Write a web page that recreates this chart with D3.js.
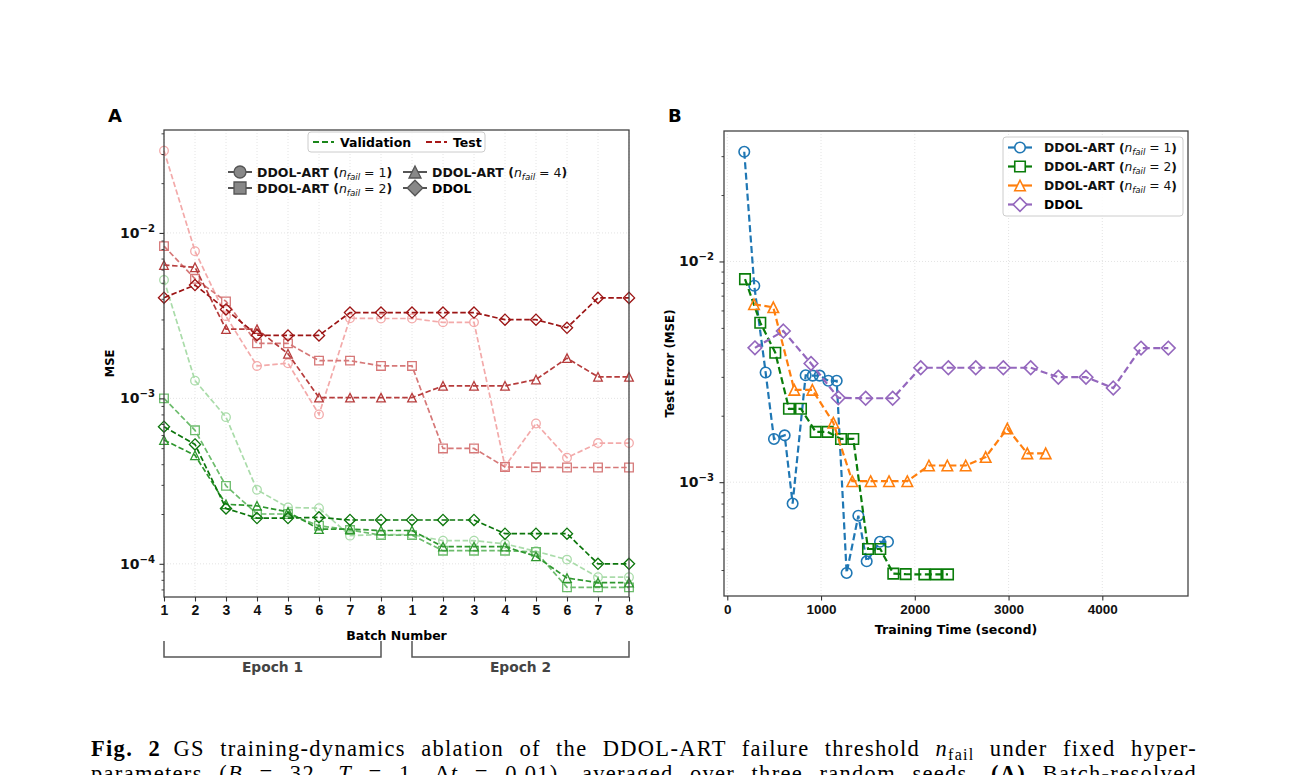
<!DOCTYPE html>
<html>
<head>
<meta charset="utf-8">
<script src="https://cdn.jsdelivr.net/npm/d3@7"></script>
<style>
  body { margin: 0; background: #fff; }
  svg { font-family: "DejaVu Sans", sans-serif; }
</style>
</head>
<body>
<svg id="fig"></svg>
<script>
// tick labels of panel A (two epochs of 8 batches)
var batchLabels = ["1", "2", "3", "4", "5", "6", "7", "8", "1", "2", "3", "4", "5", "6", "7", "8"];
var epochNames = ["Epoch 1", "Epoch 2"];

// validation MSE per batch (panel A, green)
var valN1 = [0.0052, 0.00128, 0.00077, 0.00028, 0.000219, 0.000217, 0.000148, 0.00015, 0.00015, 0.000138, 0.000138, 0.000132, 0.000119, 0.000106, 0.000083, 0.000083];
var valN2 = [0.00100, 0.000641, 0.000296, 0.000200, 0.000200, 0.000170, 0.000160, 0.000149, 0.000149, 0.000120, 0.000120, 0.000120, 0.000118, 0.000072, 0.000072, 0.000072];
var valN4 = [0.00056, 0.000453, 0.000229, 0.000224, 0.000206, 0.000162, 0.000162, 0.000159, 0.000159, 0.000127, 0.000127, 0.000127, 0.000111, 0.000082, 0.000077, 0.000077];
var valDDOL = [0.000674, 0.000527, 0.000216, 0.000189, 0.000189, 0.000191, 0.000184, 0.000184, 0.000184, 0.000184, 0.000184, 0.000152, 0.000152, 0.000152, 0.000100, 0.000100];

// test MSE per batch (panel A red, and panel B)
var testN1 = [0.0314, 0.00776, 0.00314, 0.00157, 0.00163, 0.00080, 0.00305, 0.00304, 0.00304, 0.00288, 0.00288, 0.000388, 0.000705, 0.000438, 0.000537, 0.000537];
var testN2 = [0.00832, 0.00528, 0.00386, 0.00215, 0.00215, 0.00169, 0.00169, 0.00157, 0.00157, 0.000498, 0.000498, 0.000385, 0.000383, 0.000382, 0.000382, 0.000382];
var testN4 = [0.0064, 0.0062, 0.00262, 0.00262, 0.00186, 0.00101, 0.00101, 0.00101, 0.00101, 0.00119, 0.00119, 0.00119, 0.00130, 0.00175, 0.00135, 0.00135];
var testDDOL = [0.00406, 0.00484, 0.00345, 0.00241, 0.00240, 0.00240, 0.00330, 0.00330, 0.00330, 0.00330, 0.00330, 0.00299, 0.00299, 0.00267, 0.00405, 0.00405];

// cumulative training time in seconds (panel B)
var timeN1 = [181, 288, 409, 498, 612, 697, 836, 911, 985, 1078, 1167, 1273, 1398, 1487, 1629, 1714];
var timeN2 = [189, 352, 512, 658, 786, 943, 1071, 1213, 1344, 1501, 1632, 1771, 1903, 2102, 2226, 2354];
var timeN4 = [285, 491, 715, 907, 1131, 1333, 1529, 1725, 1920, 2151, 2347, 2543, 2756, 2987, 3200, 3396];
var timeDDOL = [295, 598, 893, 1184, 1476, 1764, 2063, 2358, 2650, 2944, 3236, 3531, 3826, 4117, 4413, 4704];
var timeTicks = [0, 1000, 2000, 3000, 4000];

var svg = d3.select("#fig").attr("width", 1293).attr("height", 775);

// marker shapes in the matplotlib way (o, s, ^, D), ms = marker size in px
function markerPath(shape, ms) {
    var h = ms / 2;
    if (shape == "circle") return d3.symbol(d3.symbolCircle, Math.PI * h * h)();
    if (shape == "square") return "M" + -h + "," + -h + "H" + h + "V" + h + "H" + -h + "Z";
    if (shape == "triangle") return "M0," + -h + "L" + h + "," + h + "L" + -h + "," + h + "Z";
    var d = h * 1.3;
    return "M0," + -d + "L" + d + ",0L0," + d + "L" + -d + ",0Z";
}

function logMinors(lo, hi) {
    var out = [];
    for (var e = -6; e < 0; e++) {
        for (var m = 2; m <= 9; m++) {
            var v = m * Math.pow(10, e);
            if (v >= lo && v <= hi) out.push(v);
        }
    }
    return out;
}

// "10^-k" labels with a real superscript
function powLabel(g, x, y, exp, size) {
    var t = g.append("text").attr("x", x).attr("y", y).attr("text-anchor", "end")
        .attr("font-size", size).attr("font-weight", "bold").attr("fill", "#111");
    t.append("tspan").text("10");
    t.append("tspan").attr("dy", -size * 0.45).attr("font-size", size * 0.72).text("\u2212" + exp);
}

// "DDOL-ART (n_fail = k)" legend label
function nfailLabel(g, x, y, num, size) {
    var t = g.append("text").attr("x", x).attr("y", y).attr("font-size", size).attr("fill", "#111");
    t.append("tspan").attr("font-weight", "bold").text("DDOL-ART (");
    t.append("tspan").attr("font-style", "italic").text("n");
    t.append("tspan").attr("font-style", "italic").attr("font-size", size * 0.7).attr("dy", size * 0.25).text("fail");
    t.append("tspan").attr("dy", -size * 0.25).text(" = " + num);
    t.append("tspan").attr("font-weight", "bold").text(")");
}

function styleAxis(g, size) {
    g.select(".domain").remove();
    g.selectAll(".tick line").attr("stroke", "#333").attr("stroke-width", 1.1);
    g.selectAll(".tick text").attr("font-family", null).attr("font-weight", "bold")
        .attr("font-size", size).attr("fill", "#111");
}

/* ---------------- Panel A ---------------- */
function drawPanelA() {
    var left = 164, right = 629, top = 130, bottom = 597;
    var x = d3.scaleLinear().domain([0, 15]).range([left, right]);
    var y = d3.scaleLog().domain([6.3e-5, 0.0419]).range([bottom, top]);
    var g = svg.append("g");

    // grid
    g.selectAll(".gx").data(d3.range(16)).enter().append("line")
        .attr("x1", function(d) { return x(d); }).attr("x2", function(d) { return x(d); })
        .attr("y1", top).attr("y2", bottom)
        .attr("stroke", "#ddd").attr("stroke-width", 0.8).attr("stroke-dasharray", "1,2");
    g.selectAll(".gy").data([1e-4, 1e-3, 1e-2]).enter().append("line")
        .attr("x1", left).attr("x2", right)
        .attr("y1", function(d) { return y(d); }).attr("y2", function(d) { return y(d); })
        .attr("stroke", "#ddd").attr("stroke-width", 0.8).attr("stroke-dasharray", "1,2");

    var series = [
        { vals: valN1, shape: "circle", color: "#aadcaa" },
        { vals: testN1, shape: "circle", color: "#f3aaaa" },
        { vals: valN2, shape: "square", color: "#6cbc6c" },
        { vals: testN2, shape: "square", color: "#d67878" },
        { vals: valN4, shape: "triangle", color: "#2f972f" },
        { vals: testN4, shape: "triangle", color: "#b63c3c" },
        { vals: valDDOL, shape: "diamond", color: "#0c760c" },
        { vals: testDDOL, shape: "diamond", color: "#9c1414" }
    ];

    var line = d3.line()
        .x(function(d, i) { return x(i); })
        .y(function(d) { return y(d); });

    series.forEach(function(s) {
        g.append("path").datum(s.vals)
            .attr("fill", "none").attr("stroke", s.color).attr("stroke-width", 1.7)
            .attr("stroke-dasharray", "5.5,2.6").attr("d", line);
        g.selectAll(null).data(s.vals).enter().append("path")
            .attr("transform", function(d, i) { return "translate(" + x(i) + "," + y(d) + ")"; })
            .attr("d", markerPath(s.shape, 8.6))
            .attr("fill", "none").attr("stroke", s.color).attr("stroke-width", 1.3);
    });

    // frame
    g.append("rect").attr("x", left).attr("y", top).attr("width", right - left).attr("height", bottom - top)
        .attr("fill", "none").attr("stroke", "#444").attr("stroke-width", 1.3);

    // axes
    var ax = g.append("g").attr("transform", "translate(0," + bottom + ")")
        .call(d3.axisBottom(x).tickValues(d3.range(16))
            .tickFormat(function(i) { return batchLabels[i]; }).tickSize(4.5).tickPadding(4));
    styleAxis(ax, 14);

    var ay = g.append("g").attr("transform", "translate(" + left + ",0)")
        .call(d3.axisLeft(y).tickValues([1e-4, 1e-3, 1e-2]).tickFormat("").tickSize(4.5));
    styleAxis(ay, 14);
    var ayMinor = g.append("g").attr("transform", "translate(" + left + ",0)")
        .call(d3.axisLeft(y).tickValues(logMinors(6.3e-5, 0.0419)).tickFormat("").tickSize(2.5));
    styleAxis(ayMinor, 14);
    ayMinor.selectAll(".tick line").attr("stroke-width", 0.9);
    [2, 3, 4].forEach(function(k) { powLabel(g, 155, y(Math.pow(10, -k)) + 5, k, 14); });

    g.append("text").attr("transform", "translate(114," + (top + bottom) / 2 + ") rotate(-90)")
        .attr("text-anchor", "middle").attr("font-size", 11.5).attr("font-weight", "bold").text("MSE");
    g.append("text").attr("x", (left + right) / 2).attr("y", 640).attr("text-anchor", "middle")
        .attr("font-size", 12.5).attr("font-weight", "bold").text("Batch Number");

    // epoch brackets
    [[0, 7], [8, 15]].forEach(function(r, k) {
        var x0 = x(r[0]), x1 = x(r[1]);
        g.append("path").attr("d", "M" + x0 + ",641V657H" + x1 + "V641")
            .attr("fill", "none").attr("stroke", "#555").attr("stroke-width", 1.5);
        g.append("text").attr("x", (x0 + x1) / 2).attr("y", 672).attr("text-anchor", "middle")
            .attr("font-size", 13.8).attr("font-weight", "bold").attr("fill", "#444").text(epochNames[k]);
    });

    g.append("text").attr("x", 108).attr("y", 122).attr("font-size", 18).attr("font-weight", "bold").text("A");

    // legend: split types
    g.append("rect").attr("x", 308).attr("y", 132).attr("width", 177).attr("height", 20).attr("rx", 3)
        .attr("fill", "#fff").attr("fill-opacity", 0.85).attr("stroke", "#ccc");
    [{ lbl: "Validation", c: "#1a861a", x: 313 }, { lbl: "Test", c: "#a81818", x: 426 }].forEach(function(e) {
        g.append("line").attr("x1", e.x).attr("x2", e.x + 21).attr("y1", 142).attr("y2", 142)
            .attr("stroke", e.c).attr("stroke-width", 2.2).attr("stroke-dasharray", "6,3");
        g.append("text").attr("x", e.x + 27).attr("y", 146.5).attr("font-size", 12.5)
            .attr("font-weight", "bold").text(e.lbl);
    });

    // legend: method markers
    var marks = [
        { shape: "circle", x: 228, y: 172, n: "1" },
        { shape: "square", x: 228, y: 188, n: "2" },
        { shape: "triangle", x: 403, y: 172, n: "4" },
        { shape: "diamond", x: 403, y: 188, n: null }
    ];
    marks.forEach(function(m) {
        g.append("line").attr("x1", m.x).attr("x2", m.x + 24).attr("y1", m.y).attr("y2", m.y)
            .attr("stroke", "#555").attr("stroke-width", 2);
        g.append("path").attr("transform", "translate(" + (m.x + 12) + "," + m.y + ")")
            .attr("d", markerPath(m.shape, 12)).attr("fill", "#888").attr("stroke", "#555").attr("stroke-width", 1.3);
        if (m.n) nfailLabel(g, m.x + 29, m.y + 4.5, m.n, 12.5);
        else g.append("text").attr("x", m.x + 29).attr("y", m.y + 4.5).attr("font-size", 12.5)
            .attr("font-weight", "bold").text("DDOL");
    });
}

/* ---------------- Panel B ---------------- */
function drawPanelB() {
    var left = 724, right = 1188, top = 131, bottom = 596;
    var x = d3.scaleLinear().domain([-35, 4914]).range([left, right]);
    var y = d3.scaleLog().domain([3.05e-4, 0.039]).range([bottom, top]);
    var g = svg.append("g");

    g.selectAll(".gx").data(timeTicks).enter().append("line")
        .attr("x1", function(d) { return x(d); }).attr("x2", function(d) { return x(d); })
        .attr("y1", top).attr("y2", bottom)
        .attr("stroke", "#ddd").attr("stroke-width", 0.8).attr("stroke-dasharray", "1,2");
    g.selectAll(".gy").data([1e-3, 1e-2]).enter().append("line")
        .attr("x1", left).attr("x2", right)
        .attr("y1", function(d) { return y(d); }).attr("y2", function(d) { return y(d); })
        .attr("stroke", "#ddd").attr("stroke-width", 0.8).attr("stroke-dasharray", "1,2");

    var series = [
        { t: timeN1, v: testN1, shape: "circle", color: "#1f77b4", n: "1" },
        { t: timeN2, v: testN2, shape: "square", color: "#0a7d0a", n: "2" },
        { t: timeN4, v: testN4, shape: "triangle", color: "#ff7f0e", n: "4" },
        { t: timeDDOL, v: testDDOL, shape: "diamond", color: "#9467bd", n: null }
    ];

    var line = d3.line()
        .x(function(d) { return x(d[0]); })
        .y(function(d) { return y(d[1]); });

    series.forEach(function(s) {
        var pts = s.t.map(function(t, i) { return [t, s.v[i]]; });
        g.append("path").datum(pts)
            .attr("fill", "none").attr("stroke", s.color).attr("stroke-width", 2.2)
            .attr("stroke-dasharray", "7,3.5").attr("d", line);
        g.selectAll(null).data(pts).enter().append("path")
            .attr("transform", function(d) { return "translate(" + x(d[0]) + "," + y(d[1]) + ")"; })
            .attr("d", markerPath(s.shape, 10.5))
            .attr("fill", "none").attr("stroke", s.color).attr("stroke-width", 1.6);
    });

    g.append("rect").attr("x", left).attr("y", top).attr("width", right - left).attr("height", bottom - top)
        .attr("fill", "none").attr("stroke", "#444").attr("stroke-width", 1.3);

    var ax = g.append("g").attr("transform", "translate(0," + bottom + ")")
        .call(d3.axisBottom(x).tickValues(timeTicks).tickFormat(d3.format("d")).tickSize(4.5).tickPadding(4));
    styleAxis(ax, 13.5);

    var ay = g.append("g").attr("transform", "translate(" + left + ",0)")
        .call(d3.axisLeft(y).tickValues([1e-3, 1e-2]).tickFormat("").tickSize(4.5));
    styleAxis(ay, 13.5);
    var ayMinor = g.append("g").attr("transform", "translate(" + left + ",0)")
        .call(d3.axisLeft(y).tickValues(logMinors(3.05e-4, 0.039)).tickFormat("").tickSize(2.5));
    styleAxis(ayMinor, 13.5);
    ayMinor.selectAll(".tick line").attr("stroke-width", 0.9);
    [2, 3].forEach(function(k) { powLabel(g, 714, y(Math.pow(10, -k)) + 5, k, 14); });

    g.append("text").attr("transform", "translate(674," + (top + bottom) / 2 + ") rotate(-90)")
        .attr("text-anchor", "middle").attr("font-size", 11.8).attr("font-weight", "bold").text("Test Error (MSE)");
    g.append("text").attr("x", (left + right) / 2).attr("y", 634).attr("text-anchor", "middle")
        .attr("font-size", 12.6).attr("font-weight", "bold").text("Training Time (second)");

    g.append("text").attr("x", 668).attr("y", 122).attr("font-size", 18).attr("font-weight", "bold").text("B");

    // legend
    g.append("rect").attr("x", 1003).attr("y", 137).attr("width", 180).attr("height", 79).attr("rx", 3)
        .attr("fill", "#fff").attr("fill-opacity", 0.85).attr("stroke", "#ccc");
    series.forEach(function(s, k) {
        var ly = 147.5 + k * 19;
        g.append("line").attr("x1", 1008).attr("x2", 1032).attr("y1", ly).attr("y2", ly)
            .attr("stroke", s.color).attr("stroke-width", 2.2);
        g.append("path").attr("transform", "translate(1020," + ly + ")")
            .attr("d", markerPath(s.shape, 10.5)).attr("fill", "#fff").attr("stroke", s.color).attr("stroke-width", 1.6);
        if (s.n) nfailLabel(g, 1044, ly + 4.5, s.n, 12.3);
        else g.append("text").attr("x", 1044).attr("y", ly + 4.5).attr("font-size", 12.3)
            .attr("font-weight", "bold").text("DDOL");
    });
}

/* ---------------- caption (second line is cut by the page edge, as in the source) ---------------- */
// justify a caption line: a little letter spacing, the rest goes into the word gaps
function justify(t, width) {
    var len = t.node().getComputedTextLength();
    var txt = t.text();
    var gaps = txt.split(" ").length - 1;
    if (len >= width) return;
    var ls = Math.min(0.55 * (width - len) / txt.length, 1.3);
    t.attr("letter-spacing", ls);
    len = t.node().getComputedTextLength();
    if (gaps > 0 && len < width) t.attr("word-spacing", (width - len) / gaps);
}

function drawCaption() {
    var serif = "'Liberation Serif', 'DejaVu Serif', serif";
    var t1 = svg.append("text").attr("x", 91).attr("y", 756).attr("font-size", 22.5)
        .style("font-family", serif);
    t1.append("tspan").attr("font-weight", "bold").text("Fig. 2");
    t1.append("tspan").text("\u2002GS training-dynamics ablation of the DDOL-ART failure threshold ");
    t1.append("tspan").attr("font-style", "italic").text("n");
    t1.append("tspan").attr("font-size", 16).attr("dy", 4).text("fail");
    t1.append("tspan").attr("dy", -4).text(" under fixed hyper-");
    justify(t1, 1106);

    var t2 = svg.append("text").attr("x", 91).attr("y", 781).attr("font-size", 22.5)
        .style("font-family", serif);
    t2.append("tspan").text("parameters (");
    t2.append("tspan").attr("font-style", "italic").text("B");
    t2.append("tspan").text(" = 32, ");
    t2.append("tspan").attr("font-style", "italic").text("T");
    t2.append("tspan").text(" = 1, \u0394");
    t2.append("tspan").attr("font-style", "italic").text("t");
    t2.append("tspan").text(" = 0.01), averaged over three random seeds. ");
    t2.append("tspan").attr("font-weight", "bold").text("(A)");
    t2.append("tspan").text(" Batch-resolved");
    justify(t2, 1106);
}

drawPanelA();
drawPanelB();
drawCaption();
</script>
</body>
</html>
